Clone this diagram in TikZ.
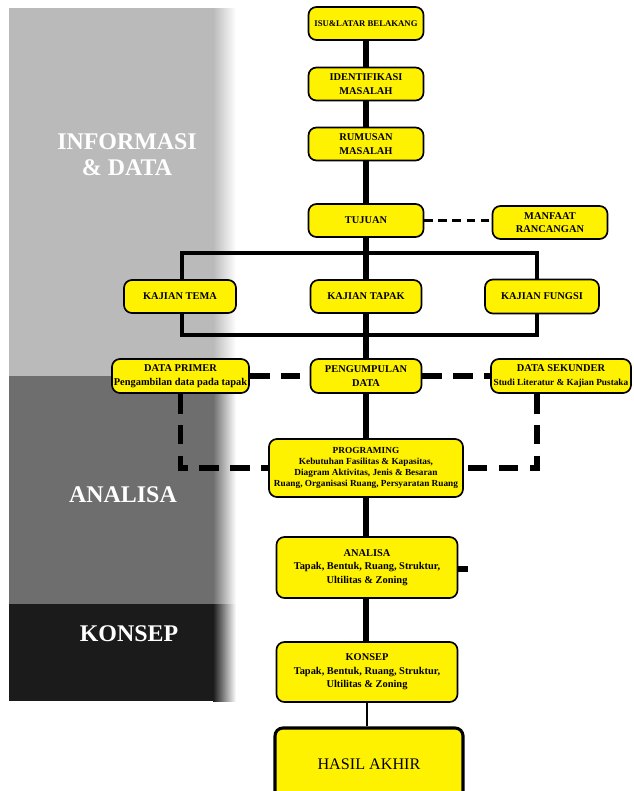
\documentclass[tikz,border=0pt]{standalone}
\usepackage{fontspec}
\setmainfont{Liberation Serif}
\usepackage{tikz}
\newcommand{\spineWidth}[0]{3.6pt}
\newcommand{\frameWidth}[0]{2.8pt}
\newcommand{\titleFont}[0]{\bfseries\fontsize{7.4}{9.6}\selectfont}
\newcommand{\detailFont}[0]{\bfseries\fontsize{6.6}{7.8}\selectfont}
\definecolor{boxyellow}{HTML}{FFF200}
\definecolor{lightpanel}{HTML}{BABABA}
\definecolor{midpanel}{HTML}{6E6E6E}
\definecolor{darkpanel}{HTML}{1B1B1B}

\begin{document}
\begin{tikzpicture}[x=0.025cm, y=-0.025cm]
  \tikzset{
    box/.style={draw, fill=boxyellow, line width=1.2pt, rounded corners=0.2cm, align=center, inner sep=1pt, font=\titleFont},
    spine/.style={line width=\spineWidth},
    frame/.style={line width=\frameWidth},
    dashline/.style={line width=\spineWidth, dash pattern=on 14pt off 8pt},
    panel/.style={text=white, font=\bfseries\fontsize{17}{18.5}\selectfont, align=center}
  }
  \clip (0,0) rectangle (633,791);
  % panels
  \fill[lightpanel] (9,8) rectangle (213,376);
  \shade[left color=lightpanel, right color=white] (213,8) rectangle (236,376);
  \fill[midpanel] (9,376) rectangle (213,604);
  \shade[left color=midpanel, right color=white] (213,376) rectangle (236,604);
  \fill[darkpanel] (9,604) rectangle (213,701);
  \shade[left color=darkpanel, right color=white] (213,604) rectangle (236,701);
  \node[panel] (info) at (127,155) {INFORMASI\\\& DATA};
  \node[panel] (analisa-label) at (123,495) {ANALISA};
  \node[panel] (konsep-label) at (129,634) {KONSEP};
  % boxes
  \node[box, minimum width=2.875cm, minimum height=0.825cm, font=\bfseries\fontsize{6.2}{7}\selectfont] (isu) at (366,23.5) {ISU\&LATAR BELAKANG};
  \node[box, minimum width=2.875cm, minimum height=0.825cm] (identifikasi) at (366,84) {IDENTIFIKASI\\MASALAH};
  \node[box, minimum width=2.875cm, minimum height=0.825cm] (rumusan) at (366,144) {RUMUSAN\\MASALAH};
  \node[box, minimum width=2.875cm, minimum height=0.825cm] (tujuan) at (366,220.5) {TUJUAN};
  \node[box, minimum width=2.875cm, minimum height=0.825cm] (manfaat) at (550,222.5) {MANFAAT\\RANCANGAN};
  \node[box, minimum width=2.8cm, minimum height=0.825cm] (tema) at (180,296.5) {KAJIAN TEMA};
  \node[box, minimum width=2.775cm, minimum height=0.825cm] (tapak) at (366,296.5) {KAJIAN TAPAK};
  \node[box, minimum width=2.85cm, minimum height=0.85cm] (fungsi) at (542,296.5) {KAJIAN FUNGSI};
  \node[box, minimum width=3.425cm, minimum height=0.85cm] (primer) at (180.5,376) {DATA PRIMER\\{\bfseries\fontsize{7.4}{8.4}\selectfont Pengambilan data pada tapak}};
  \node[box, minimum width=2.775cm, minimum height=0.85cm] (kumpul) at (366,376) {PENGUMPULAN\\DATA};
  \node[box, minimum width=3.5cm, minimum height=0.85cm] (sekunder) at (561,376) {DATA SEKUNDER\\{\detailFont Studi Literatur \& Kajian Pustaka}};
  \node[box, minimum width=4.85cm, minimum height=1.45cm, font=\detailFont] (programing) at (366,468) {PROGRAMING\\Kebutuhan Fasilitas \& Kapasitas,\\Diagram Aktivitas, Jenis \& Besaran\\Ruang, Organisasi Ruang, Persyaratan Ruang};
  \node[box, minimum width=4.525cm, minimum height=1.525cm] (analisa) at (367,567.5) {ANALISA\\Tapak, Bentuk, Ruang, Struktur,\\Ultilitas \& Zoning};
  \node[box, minimum width=4.525cm, minimum height=1.5cm] (konsep) at (367,672) {KONSEP\\Tapak, Bentuk, Ruang, Struktur,\\Ultilitas \& Zoning};
  \node[box, line width=2.2pt, minimum width=4.7cm, minimum height=1.8cm, fill=yellow, font=\fontsize{11.5}{13}\selectfont] (hasil) at (369,764) {HASIL AKHIR};
  % frame round the three kajian boxes
  \coordinate (top-left) at (182,253);
  \coordinate (top-right) at (537,253);
  \coordinate (bottom-left) at (182,335);
  \coordinate (bottom-right) at (537,335);
  \draw[frame] (top-left |- tema.north) -- (top-left) -- (top-right) -- (top-right |- fungsi.north);
  \draw[frame] (bottom-left |- tema.south) -- (bottom-left) -- (bottom-right) -- (bottom-right |- fungsi.south);
  % main line
  \draw[spine] (isu) -- (identifikasi);
  \draw[spine] (identifikasi) -- (rumusan);
  \draw[spine] (rumusan) -- (tujuan);
  \draw[spine] (tujuan) -- (tapak);
  \draw[spine] (tapak) -- (kumpul);
  \draw[spine] (kumpul) -- (programing);
  \draw[spine] (programing.south) -- (programing.south |- analisa.north);
  \draw[spine] (analisa.south -| programing.south) -- (programing.south |- konsep.north);
  \coordinate (stub) at (468,569);
  \draw[spine] (analisa.east |- stub) -- (stub);
  \draw[line width=1.6pt] (konsep.south) -- (konsep.south |- hasil.north);
  % dashed links
  \draw[line width=1.8pt, dash pattern=on 6pt off 4pt] (tujuan.east) -- (tujuan.east -| manfaat.west);
  \draw[dashline] (primer) -- (kumpul);
  \draw[dashline] (kumpul) -- (sekunder);
  \draw[dashline] (primer.south) |- (programing.west);
  \draw[dashline] (sekunder.south -| top-right) |- (programing.east);
\end{tikzpicture}
\end{document}
